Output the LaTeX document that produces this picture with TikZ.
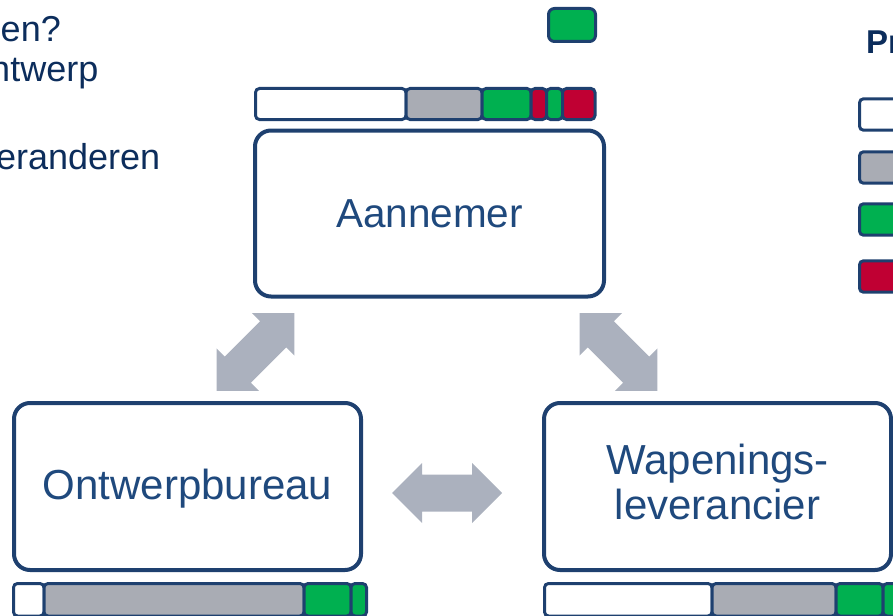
\documentclass[tikz,border=0pt]{standalone}
\usepackage{fontspec}
\setmainfont{Liberation Sans}
\definecolor{boxline}{HTML}{1E406F}
\definecolor{boxtext}{HTML}{1F497D}
\definecolor{darktext}{HTML}{0C2D5C}
\definecolor{arrgray}{HTML}{ABB1BE}
\definecolor{bargray}{HTML}{A9ACB4}
\definecolor{bargreen}{HTML}{00B050}
\definecolor{barred}{HTML}{C00033}
\newcommand\barseg[5]{\draw[segbox,fill=#5] (#1,#3) rectangle (#2,#4);}
\begin{document}
\begin{tikzpicture}[x=1pt,y=-1pt,
  bigbox/.style={draw=boxline,line width=4pt,rounded corners=16pt,minimum width=347pt,minimum height=167pt,inner sep=0pt,text=boxtext,align=center,font=\fontsize{42}{45}\selectfont},
  segbox/.style={draw=boxline,line width=3pt,rounded corners=4pt},
  sidetext/.style={text=darktext,inner sep=0pt,font=\fontsize{36}{40}\selectfont},
  dblarr/.pic={\fill[arrgray] (-55,0) -- (-25,-30) -- (-25,-18.5) -- (25,-18.5) -- (25,-30) -- (55,0) -- (25,30) -- (25,18.5) -- (-25,18.5) -- (-25,30) -- cycle;}
]
\useasboundingbox (0,0) rectangle (893,615);
% top-left text
\node[sidetext,anchor=base east] (t1) at (61,42) {en?};
\node[sidetext,anchor=base east] (t2) at (98.5,82) {ntwerp};
\node[sidetext,anchor=base east] (t3) at (160.5,169) {eranderen};
% legend
\node[text=darktext,inner sep=0pt,anchor=base west,font=\fontsize{33}{38}\selectfont\bfseries] (leg) at (866,54) {Pr};
\barseg{859.5}{905}{98.8}{130.2}{white}
\barseg{859.5}{905}{151.8}{183.2}{bargray}
\barseg{859.5}{905}{203.8}{235.2}{bargreen}
\barseg{859.5}{905}{260.8}{292.2}{barred}
% small green box
\draw[segbox,rounded corners=6pt,fill=bargreen] (548.5,8.5) rectangle (595.5,41.5);
% top bar
\barseg{255.5}{406}{88.5}{119.5}{white}
\barseg{406}{482}{88.5}{119.5}{bargray}
\barseg{482}{531}{88.5}{119.5}{bargreen}
\barseg{531}{546.5}{88.5}{119.5}{barred}
\barseg{546.5}{562.5}{88.5}{119.5}{bargreen}
\barseg{562.5}{595}{88.5}{119.5}{barred}
% bottom left bar
\barseg{13.5}{44}{583.5}{616}{white}
\barseg{44}{304}{583.5}{616}{bargray}
\barseg{304}{351}{583.5}{616}{bargreen}
\barseg{351}{366.5}{583.5}{616}{bargreen}
% bottom right bar
\barseg{544.5}{712}{583.5}{616}{white}
\barseg{712}{836}{583.5}{616}{bargray}
\barseg{836}{883}{583.5}{616}{bargreen}
\barseg{883}{905}{583.5}{616}{bargreen}
% boxes
\node[bigbox,minimum width=349pt,minimum height=166pt,font=\fontsize{40.5}{45}\selectfont] (aan) at (429.5,213.5) {Aannemer};
\node[bigbox] (ont) at (187.5,486.5) {\rule{0pt}{35pt}Ontwerpbureau};
\node[bigbox] (wap) at (717.5,486.5) {Wapenings-\\leverancier\rule[-9pt]{0pt}{9pt}};
% arrows
\pic[rotate=45] (arrL) at (255.5,352) {dblarr};
\pic[rotate=-45] (arrR) at (618.5,352) {dblarr};
\pic (arrH) at (447,493) {dblarr};
\end{tikzpicture}
\end{document}
